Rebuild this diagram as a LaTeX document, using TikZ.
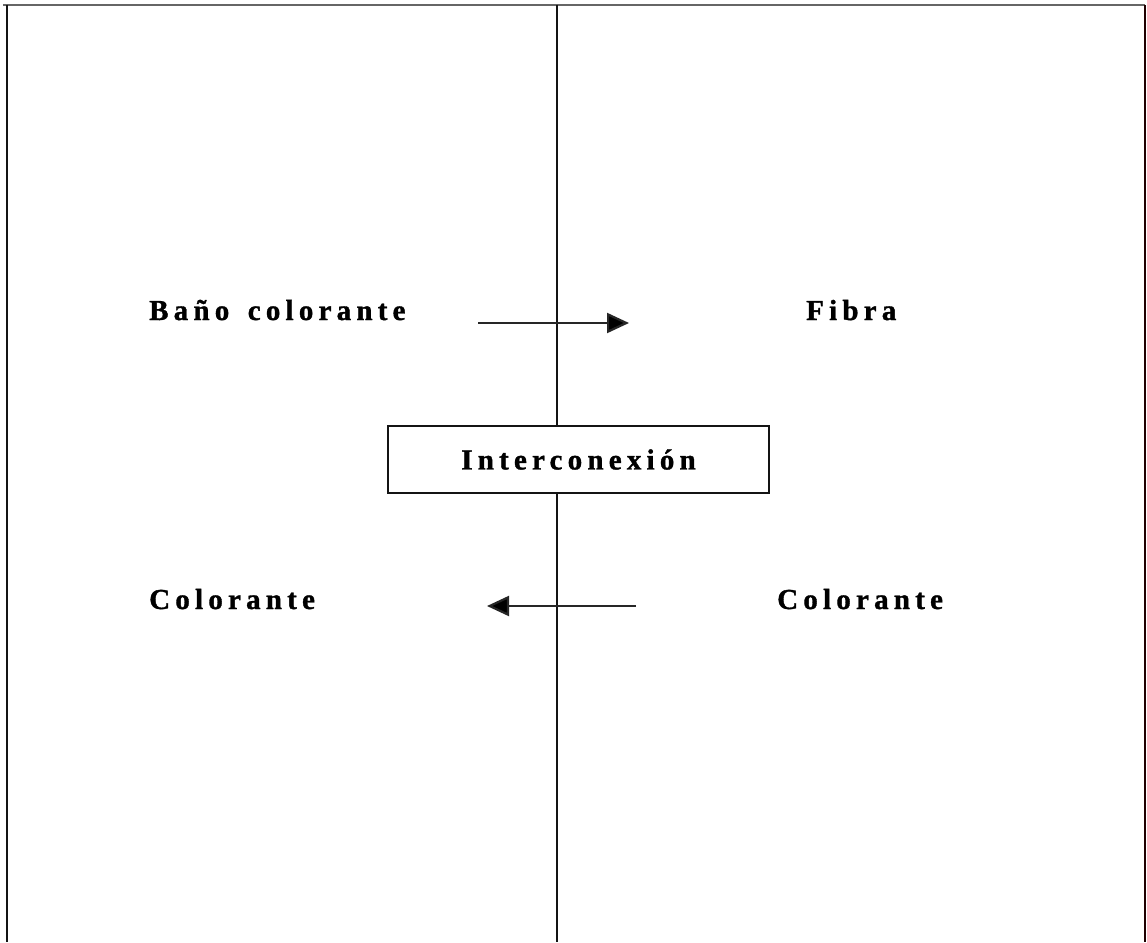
\documentclass[tikz,border=0pt]{standalone}
\usepackage{fontspec}
\setmainfont{Liberation Serif}[LetterSpace=18,BoldFeatures={FakeBold=1.2}]
\usetikzlibrary{arrows.meta}
\begin{document}
\begin{tikzpicture}[x=1pt,y=-1pt,
  rule/.style={line width=2.4pt,draw=black!92},
  label/.style={font=\bfseries\fontsize{29}{33}\selectfont,inner sep=0pt},
  flow/.style={line width=2.2pt,draw=black!85,-{Triangle[length=22pt,width=20pt,fill=black]}},
  boxed/.style={draw=black!92,line width=2.4pt,minimum width=381pt,minimum height=67pt,inner sep=0pt,
    font=\bfseries\fontsize{29}{33}\selectfont}]
  \useasboundingbox (0,0) rectangle (1147,942);
  % frame
  \coordinate (tl) at (3,5);
  \coordinate (tr) at (1145,5);
  \coordinate (bl) at (7,942);
  \coordinate (br) at (1145,942);
  \coordinate (ml) at (7,5);
  \coordinate (mt) at (557,5);
  \coordinate (mb) at (557,942);
  \draw[line width=1.8pt,draw=black!60] (tl) -- (tr);
  \draw[rule] (ml) -- (bl);
  \draw[line width=2.2pt,draw=black!70!red!40!black] (tr) -- (br);
  % central box
  \node[boxed] (inter) at (578.5,459.5) {Interconexión};
  \draw[rule] (mt) -- (mt |- inter.north);
  \draw[rule] (mb |- inter.south) -- (mb);
  % labels
  \node[label,anchor=base west] (bano) at (149,320) {Baño\hspace{6pt} colorante};
  \node[label,anchor=base west] (fibra) at (806,320) {Fibra};
  \node[label,anchor=base west] (colL) at (149,609) {Colorante};
  \node[label,anchor=base west] (colR) at (777,609) {Colorante};
  % transfer arrows
  \coordinate (a1) at (478,323);
  \coordinate (a2) at (629,323);
  \coordinate (b1) at (636,606);
  \coordinate (b2) at (487,606);
  \draw[flow] (a1) -- (a2);
  \draw[flow] (b1) -- (b2);
\end{tikzpicture}
\end{document}
